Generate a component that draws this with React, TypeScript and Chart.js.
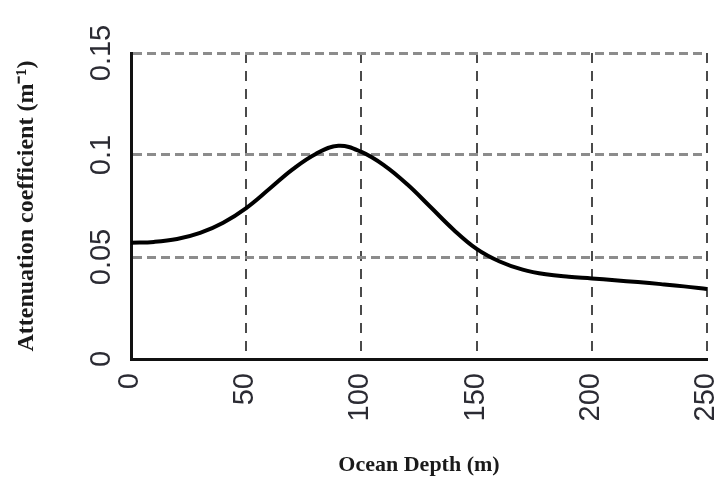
import React, { useEffect, useRef } from "react";
import { Chart, registerables } from "chart.js";

Chart.register(...registerables);

const depths = [0, 10, 20, 30, 40, 50, 60, 70, 80, 90, 100, 110, 120, 130, 140, 150, 160, 170, 180, 190, 200, 210, 220, 230, 240, 250];
const attenuation = [0.057, 0.0574, 0.0588, 0.0618, 0.0668, 0.074, 0.0833, 0.0928, 0.1004, 0.1045, 0.1015, 0.0948, 0.0855, 0.0745, 0.0634, 0.054, 0.0478, 0.0438, 0.0415, 0.0403, 0.0395, 0.0386, 0.0377, 0.0367, 0.0356, 0.0343];
const xTickValues = [0, 50, 100, 150, 200, 250];
const yTickValues = [0, 0.05, 0.1, 0.15];
const yTickLabels = ["0", "0.05", "0.1", "0.15"];
const xTitle = "Ocean Depth (m)";
const yTitle = "Attenuation coefficient (m\u207B\u00B9)";

const textPlugin = {
  id: "customText",
  afterDraw(chart: any) {
    const ctx = chart.ctx;
    const xs = chart.scales.x;
    const ys = chart.scales.y;
    const area = chart.chartArea;
    ctx.save();
    ctx.fillStyle = "#2b2b33";
    ctx.font = "29px 'Liberation Sans', Arial, sans-serif";
    yTickValues.forEach((v, i) => {
      const py = ys.getPixelForValue(v);
      ctx.save();
      ctx.translate(area.left - 29, py);
      ctx.rotate(-Math.PI / 2);
      ctx.textAlign = "center";
      ctx.textBaseline = "middle";
      ctx.fillText(yTickLabels[i], 0, 0);
      ctx.restore();
    });
    xTickValues.forEach((v) => {
      const px = xs.getPixelForValue(v);
      ctx.save();
      ctx.translate(px - 1, area.bottom + 14);
      ctx.rotate(-Math.PI / 2);
      ctx.textAlign = "right";
      ctx.textBaseline = "middle";
      ctx.fillText(String(v), 0, 0);
      ctx.restore();
    });
    ctx.fillStyle = "#1a1a1a";
    ctx.font = "bold 22px 'Liberation Serif', 'Times New Roman', serif";
    ctx.textAlign = "center";
    ctx.textBaseline = "middle";
    ctx.fillText(xTitle, (area.left + area.right) / 2, 465);
    ctx.save();
    ctx.font = "bold 24px 'Liberation Serif', 'Times New Roman', serif";
    ctx.translate(27, (area.top + area.bottom) / 2);
    ctx.rotate(-Math.PI / 2);
    ctx.fillText(yTitle, 0, 0);
    ctx.restore();
    ctx.restore();
  },
};

export default function App() {
  const canvasRef = useRef<HTMLCanvasElement | null>(null);

  useEffect(() => {
    const canvas = canvasRef.current;
    if (!canvas) return;
    const chart = new Chart(canvas, {
      type: "line",
      data: {
        datasets: [
          {
            data: depths.map((d, i) => ({ x: d, y: attenuation[i] })),
            borderColor: "#000000",
            borderWidth: 4,
            pointRadius: 0,
            fill: false,
            tension: 0.4,
          },
        ],
      },
      options: {
        responsive: false,
        animation: false,
        events: [],
        layout: { padding: { left: 131, right: 13, top: 53, bottom: 121 } },
        plugins: {
          legend: { display: false },
          tooltip: { enabled: false },
          title: { display: false },
        },
        scales: {
          x: {
            type: "linear",
            min: 0,
            max: 250,
            afterBuildTicks: (scale: any) => {
              scale.ticks = xTickValues.map((v) => ({ value: v }));
            },
            ticks: { display: false },
            grid: {
              drawTicks: false,
              color: "#4a4a4a",
              lineWidth: 2,
            },
            border: { display: true, color: "#111111", width: 3, dash: [10, 8] },
          },
          y: {
            type: "linear",
            min: 0,
            max: 0.15,
            afterBuildTicks: (scale: any) => {
              scale.ticks = yTickValues.map((v) => ({ value: v }));
            },
            ticks: { display: false },
            grid: {
              drawTicks: false,
              color: "#8c8c8c",
              lineWidth: 3,
            },
            border: { display: true, color: "#111111", width: 3, dash: [9, 5] },
          },
        },
      },
      plugins: [textPlugin],
    });
    return () => chart.destroy();
  }, []);

  return (
    <div style={{ position: "fixed", left: 0, top: 0, width: 720, height: 480, background: "#ffffff" }}>
      <canvas ref={canvasRef} width={720} height={480} style={{ display: "block" }} />
    </div>
  );
}
